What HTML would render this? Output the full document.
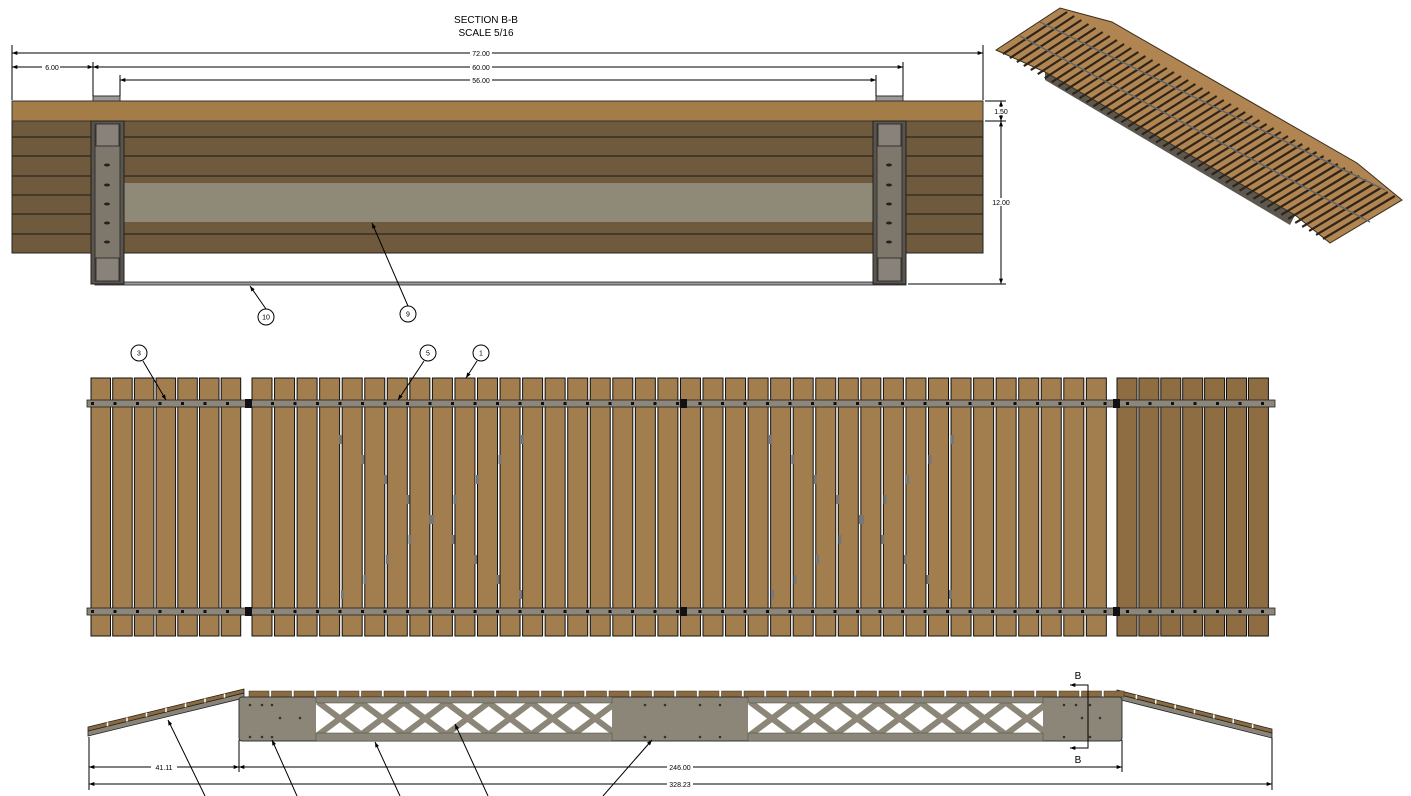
<!DOCTYPE html>
<html><head><meta charset="utf-8"><style>
html,body{margin:0;padding:0;background:#fff;}
svg{display:block;font-family:"Liberation Sans",sans-serif;}
</style></head><body>
<svg id="s" width="1411" height="796" viewBox="0 0 1411 796" xmlns="http://www.w3.org/2000/svg">
<defs>
<marker id="a" viewBox="0 0 8 6" refX="8" refY="3" markerWidth="6" markerHeight="4" orient="auto-start-reverse"><path d="M0,0L8,3L0,6z" fill="#000"/></marker>
</defs>
<rect width="1411" height="796" fill="#fff"/>
<text x="486" y="23" font-size="10" text-anchor="middle">SECTION B-B</text>
<text x="486" y="36" font-size="10" text-anchor="middle">SCALE 5/16</text>
<rect x="12" y="121" width="971" height="132" fill="#6f5a3e" stroke="#222" stroke-width="1"/>
<g id="secl" stroke="#1a1a1a" stroke-width="1"></g>
<rect x="123" y="183" width="750" height="39" fill="#8f8a78"/>
<rect x="12" y="101" width="971" height="20" fill="#a47c48" stroke="#333"/>
<rect x="93" y="96" width="27" height="5" fill="#999" stroke="#333"/>
<rect x="876" y="96" width="27" height="5" fill="#999" stroke="#333"/>
<rect x="95" y="282" width="811" height="3" fill="#999" stroke="#222" stroke-width="0.8"/>
<g id="posts"></g>
<g stroke="#000" stroke-width="1" fill="none">
<line x1="12" y1="45" x2="12" y2="100"/><line x1="983" y1="45" x2="983" y2="100"/>
<line x1="93" y1="62" x2="93" y2="96"/><line x1="903" y1="62" x2="903" y2="96"/>
<line x1="120" y1="75" x2="120" y2="96"/><line x1="876" y1="75" x2="876" y2="96"/>
<line x1="12" y1="53" x2="983" y2="53" marker-start="url(#a)" marker-end="url(#a)"/>
<line x1="93" y1="67" x2="903" y2="67" marker-start="url(#a)" marker-end="url(#a)"/>
<line x1="120" y1="80" x2="876" y2="80" marker-start="url(#a)" marker-end="url(#a)"/>
<line x1="12" y1="67" x2="93" y2="67" marker-start="url(#a)" marker-end="url(#a)"/>
<line x1="985" y1="101" x2="1006" y2="101"/><line x1="985" y1="121" x2="1006" y2="121"/><line x1="908" y1="284" x2="1006" y2="284"/>
<line x1="1001" y1="101" x2="1001" y2="121" marker-start="url(#a)" marker-end="url(#a)"/>
<line x1="1001" y1="121" x2="1001" y2="284" marker-start="url(#a)" marker-end="url(#a)"/>
<line x1="266" y1="309" x2="250" y2="286" marker-end="url(#a)"/>
<line x1="408" y1="306" x2="372" y2="223" marker-end="url(#a)"/>
</g>
<g font-size="7" text-anchor="middle">
<rect x="470" y="49" width="22" height="8" fill="#fff"/><text x="481" y="56">72.00</text>
<rect x="470" y="63" width="22" height="8" fill="#fff"/><text x="481" y="70">60.00</text>
<rect x="470" y="76" width="22" height="8" fill="#fff"/><text x="481" y="83">56.00</text>
<rect x="42" y="63" width="18" height="8" fill="#fff"/><text x="52" y="70">6.00</text>
<rect x="992" y="107" width="18" height="8" fill="#fff"/><text x="1001" y="114">1.50</text>
<rect x="990" y="198" width="22" height="8" fill="#fff"/><text x="1001" y="205">12.00</text>
</g>
<g id="balloons" fill="#fff" stroke="#000" font-size="7" text-anchor="middle"></g>
<g id="iso"></g>
<g id="plan"></g>
<g id="elev"></g>
</svg>
<script>
var NS="http://www.w3.org/2000/svg";
function el(p,t,a,txt){var e=document.createElementNS(NS,t);for(var k in a)e.setAttribute(k,a[k]);if(txt)e.textContent=txt;p.appendChild(e);return e;}
var g=document.getElementById('secl');
[137,156,176,195,214,234].forEach(function(y){el(g,'line',{x1:12,y1:y,x2:983,y2:y});});
var ps=document.getElementById('posts');
[91,873].forEach(function(x){
 el(ps,'rect',{x:x,y:121,width:33,height:163,fill:'#5a544a',stroke:'#222'});
 el(ps,'rect',{x:x+4,y:124,width:25,height:157,fill:'#7d776c',stroke:'#333'});
 el(ps,'rect',{x:x+5,y:124,width:23,height:22,fill:'#88827a',stroke:'#333'});
 el(ps,'rect',{x:x+5,y:258,width:23,height:23,fill:'#88827a',stroke:'#333'});
 [165,185,204,223,242].forEach(function(y){el(ps,'ellipse',{cx:x+16,cy:y,rx:3,ry:1.5,fill:'#222'});});
});
var b=document.getElementById('balloons');
[[266,317,'10'],[408,314,'9'],[139,353,'3'],[428,353,'5'],[481,353,'1']].forEach(function(c){
 el(b,'circle',{cx:c[0],cy:c[1],r:8});el(b,'text',{x:c[0],y:c[1]+2.5,fill:'#000',stroke:'none'},c[2]);});
var iso=document.getElementById('iso');
el(iso,'polygon',{points:'1045,72 1295,215 1290,225 1045,80',fill:'#5d584f'});
el(iso,'polygon',{points:'996,50 1060,8 1112,22 1357,163 1402,200 1330,243 1295,215 1045,72',fill:'#b08552',stroke:'#3a2c1a','stroke-width':1});
var A=[996,50],B=[1060,8],R=[1330,243];
for(var i=1;i<48;i++){var t=i/48;
 var sx=A[0]+(R[0]-A[0])*t, sy=A[1]+(R[1]-A[1])*t;
 var ex=B[0]+(1402-B[0])*t, ey=B[1]+(200-B[1])*t;
 el(iso,'line',{x1:sx,y1:sy,x2:ex,y2:ey,stroke:'#2e2418','stroke-width':2.2});}
el(iso,'line',{x1:1020,y1:36,x2:1370,y2:222,stroke:'#666','stroke-width':1.5});
el(iso,'line',{x1:1040,y1:22,x2:1385,y2:190,stroke:'#666','stroke-width':1.5});
var p=document.getElementById('plan');
function plank(x,w,c){el(p,'rect',{x:x,y:378,width:w,height:258,fill:c,stroke:'#111','stroke-width':1});}
for(var i=0;i<7;i++)plank(91+i*21.7,19.5,'#a27e4f');
for(var i=0;i<38;i++)plank(252+i*22.55,20,'#a27e4f');
for(var i=0;i<7;i++)plank(1117+i*21.9,20,'#8e6d42');
[400,608].forEach(function(y){
 el(p,'rect',{x:87,y:y,width:1188,height:7,fill:'#8c877a',stroke:'#222','stroke-width':0.8});
 for(var x=91;x<1275;x+=22.5)el(p,'rect',{x:x,y:y+2,width:3,height:3,fill:'#111'});
 [245,680,1113].forEach(function(x){el(p,'rect',{x:x,y:y-1,width:7,height:9,fill:'#111'});});
});
[[340,420,600],[770,420,600]].forEach(function(r){
 for(var k=0;k<9;k++){var x=r[0]+k*22.5,yy=[435,455,475,495,515,535,555,575,590];
  el(p,'rect',{x:x-1,y:yy[k],width:3,height:9,fill:'#777'});el(p,'rect',{x:x+1,y:yy[8-k],width:3,height:9,fill:'#777'});}
});
var gl=el(p,'g',{stroke:'#000','stroke-width':1,fill:'none'});
el(gl,'line',{x1:143,y1:361,x2:166,y2:400,'marker-end':'url(#a)'});
el(gl,'line',{x1:424,y1:361,x2:398,y2:400,'marker-end':'url(#a)'});
el(gl,'line',{x1:477,y1:361,x2:466,y2:378,'marker-end':'url(#a)'});
var e=document.getElementById('elev');
function ramp(x1,y1,x2,y2){
 el(e,'polygon',{points:[x1,y1+4,x2,y2+4,x2,y2+9,x1,y1+9].join(' '),fill:'#8a8578',stroke:'#222','stroke-width':0.8});
 el(e,'polygon',{points:[x1,y1,x2,y2,x2,y2+4,x1,y1+4].join(' '),fill:'#8a6a3e',stroke:'#222','stroke-width':0.8});
 for(var i=1;i<8;i++){var t=i/8;el(e,'line',{x1:x1+(x2-x1)*t,y1:y1+(y2-y1)*t,x2:x1+(x2-x1)*t,y2:y1+(y2-y1)*t+4,stroke:'#fff','stroke-width':1.5});}
}
ramp(88,727,244,689);ramp(1117,690,1272,729);
for(var x=249;x<1118;x+=22.5)el(e,'rect',{x:x,y:691,width:20,height:6,fill:'#8a6a3e',stroke:'#333','stroke-width':0.5});
el(e,'rect',{x:239,y:697,width:883,height:44,rx:3,fill:'#8b8677',stroke:'#333','stroke-width':1});
[[316,612],[748,1043]].forEach(function(r){
 el(e,'rect',{x:r[0],y:703,width:r[1]-r[0],height:30,fill:'#fff'});
 for(var k=0;k<7;k++){var x=r[0]+2+k*42.5;
  el(e,'line',{x1:x,y1:702,x2:x+44,y2:735,stroke:'#8b8677','stroke-width':6});
  el(e,'line',{x1:x+44,y1:702,x2:x,y2:735,stroke:'#8b8677','stroke-width':6});}
 el(e,'rect',{x:r[0],y:697,width:r[1]-r[0],height:6,fill:'#8b8677',stroke:'#444','stroke-width':0.5});
 el(e,'rect',{x:r[0],y:733,width:r[1]-r[0],height:8,fill:'#8b8677',stroke:'#444','stroke-width':0.5});
});
[[250,705],[262,705],[272,705],[250,737],[262,737],[272,737],[1064,705],[1076,705],[1090,705],[1064,737],[1090,737],[645,705],[665,705],[700,705],[720,705],[645,737],[665,737],[700,737],[720,737],[280,718],[300,718],[1100,718],[1082,718]].forEach(function(c){el(e,'circle',{cx:c[0],cy:c[1],r:1.3,fill:'#333'});});
var d=el(e,'g',{stroke:'#000','stroke-width':1,fill:'none'});
el(d,'line',{x1:89,y1:737,x2:89,y2:790});el(d,'line',{x1:239,y1:740,x2:239,y2:772});
el(d,'line',{x1:1122,y1:740,x2:1122,y2:772});el(d,'line',{x1:1272,y1:738,x2:1272,y2:790});
el(d,'line',{x1:89,y1:767,x2:239,y2:767,'marker-start':'url(#a)','marker-end':'url(#a)'});
el(d,'line',{x1:239,y1:767,x2:1122,y2:767,'marker-start':'url(#a)','marker-end':'url(#a)'});
el(d,'line',{x1:89,y1:784,x2:1272,y2:784,'marker-start':'url(#a)','marker-end':'url(#a)'});
el(d,'polyline',{points:'1070,685 1088,685 1088,748 1070,748'});
el(d,'line',{x1:1084,y1:685,x2:1070,y2:685,'marker-end':'url(#a)'});
el(d,'line',{x1:1084,y1:748,x2:1070,y2:748,'marker-end':'url(#a)'});
[[205,796,168,720],[297,796,272,740],[400,796,375,742],[488,796,455,724],[603,796,652,740]].forEach(function(l){el(d,'line',{x1:l[0],y1:l[1],x2:l[2],y2:l[3],'marker-end':'url(#a)'});});
[[164,767,'41.11'],[680,767,'246.00'],[680,784,'328.23']].forEach(function(t){
 el(e,'rect',{x:t[0]-13,y:t[1]-4,width:26,height:8,fill:'#fff'});
 el(e,'text',{x:t[0],y:t[1]+3,'font-size':7,'text-anchor':'middle'},t[2]);});
el(e,'text',{x:1078,y:679,'font-size':10,'text-anchor':'middle'},'B');
el(e,'text',{x:1078,y:763,'font-size':10,'text-anchor':'middle'},'B');
</script>
</body></html>
